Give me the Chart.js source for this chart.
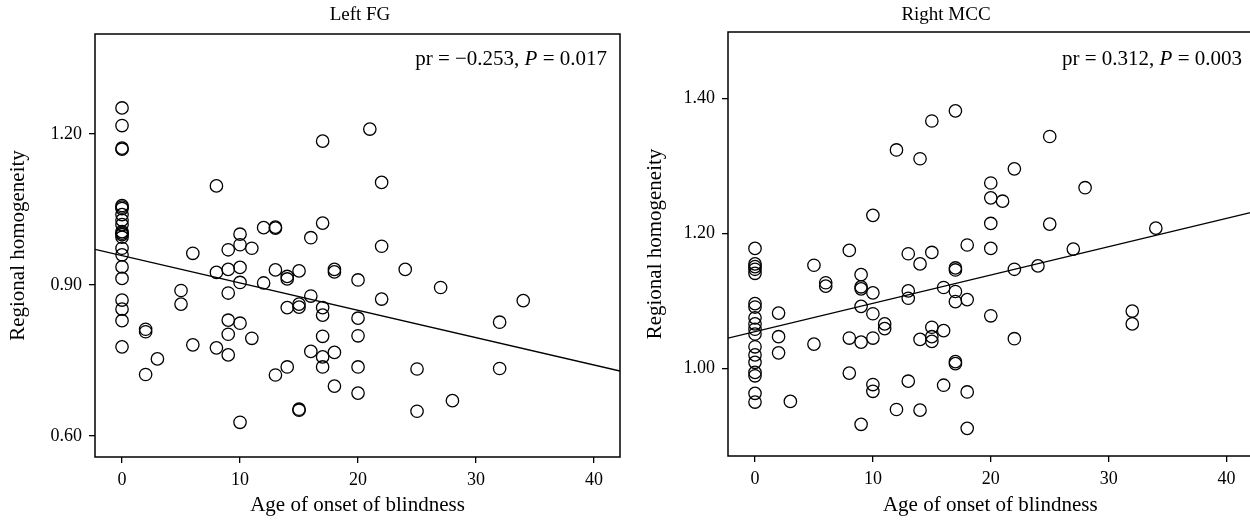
<!DOCTYPE html>
<html lang="en">
<head>
<meta charset="UTF-8">
<title>Regional homogeneity vs age of onset of blindness</title>
<style>
    html, body {
        margin: 0;
        padding: 0;
        background: #fff;
        overflow: hidden;
    }
    .panel {
        position: absolute;
        top: 0;
    }
    #leftPanel { left: 0; }
    #rightPanel { left: 630px; }
</style>
</head>
<body>
<div class="panel" id="leftPanel"><canvas id="leftChart" width="630" height="524"></canvas></div>
<div class="panel" id="rightPanel"><canvas id="rightChart" width="630" height="524"></canvas></div>

<script src="https://cdn.jsdelivr.net/npm/chart.js"></script>
<script>
// Age of onset (years) and ReHo value per subject
const leftAges = [
    0, 0, 0, 0, 0, 0, 0, 0, 0, 0, 0, 0, 0, 0, 0, 0, 0, 0, 0, 0, 0, 0,
    2, 2, 2, 3, 5, 5, 6, 6, 8, 8, 8,
    9, 9, 9, 9, 9, 9, 10, 10, 10, 10, 10, 10, 11, 11, 12, 12,
    13, 13, 13, 13, 14, 14, 14, 14, 15, 15, 15, 15, 15, 16, 16, 16,
    17, 17, 17, 17, 17, 17, 17, 18, 18, 18, 18, 20, 20, 20, 20, 20,
    21, 22, 22, 22, 24, 25, 25, 27, 28, 32, 32, 34
];
const leftReho = [
    1.252, 1.217, 1.172, 1.170, 1.058, 1.055, 1.052, 1.040, 1.029, 1.020, 1.006,
    1.003, 1.000, 0.995, 0.973, 0.960, 0.936, 0.913, 0.870, 0.852, 0.829, 0.777,
    0.812, 0.807, 0.722, 0.753, 0.889, 0.862, 0.963, 0.781, 1.097, 0.925, 0.775,
    0.970, 0.931, 0.884, 0.830, 0.802, 0.761, 1.001, 0.980, 0.935, 0.905, 0.824, 0.627,
    0.973, 0.794, 1.014, 0.904,
    1.015, 1.013, 0.930, 0.721, 0.917, 0.912, 0.855, 0.737, 0.928, 0.862, 0.856, 0.653, 0.651,
    0.994, 0.878, 0.768,
    1.186, 1.023, 0.855, 0.840, 0.798, 0.757, 0.737, 0.931, 0.926, 0.766, 0.699,
    0.910, 0.834, 0.799, 0.737, 0.685,
    1.210, 1.104, 0.977, 0.872, 0.931, 0.733, 0.649, 0.895, 0.670, 0.826, 0.734, 0.869
];

const rightAges = [
    0, 0, 0, 0, 0, 0, 0, 0, 0, 0, 0, 0, 0, 0, 0, 0, 0, 0,
    2, 2, 2, 3, 5, 5, 6, 6, 8, 8, 8,
    9, 9, 9, 9, 9, 9, 10, 10, 10, 10, 10, 10, 11, 11, 12, 12,
    13, 13, 13, 13, 14, 14, 14, 14, 15, 15, 15, 15, 15, 16, 16, 16,
    17, 17, 17, 17, 17, 17, 17, 18, 18, 18, 18, 20, 20, 20, 20, 20,
    21, 22, 22, 22, 24, 25, 25, 27, 28, 32, 32, 34
];
const rightReho = [
    1.178, 1.155, 1.151, 1.147, 1.141, 1.096, 1.091, 1.075, 1.066,
    1.058, 1.051, 1.032, 1.020, 1.009, 0.994, 0.989, 0.963, 0.950,
    1.082, 1.047, 1.023, 0.951, 1.153, 1.036, 1.127, 1.122, 1.175, 1.045, 0.993,
    1.139, 1.121, 1.118, 1.092, 1.039, 0.917, 1.227, 1.112, 1.081, 1.045, 0.976, 0.966,
    1.066, 1.059, 1.324, 0.939,
    1.170, 1.115, 1.104, 0.981, 1.311, 1.155, 1.043, 0.938, 1.367, 1.172, 1.061, 1.047, 1.040,
    1.120, 1.056, 0.975,
    1.382, 1.149, 1.146, 1.114, 1.099, 1.010, 1.007, 1.183, 1.102, 0.965, 0.911,
    1.275, 1.253, 1.215, 1.178, 1.078,
    1.248, 1.296, 1.147, 1.044, 1.152, 1.344, 1.214, 1.177, 1.268, 1.085, 1.066, 1.208
];

// Fitted regression lines (intercept at age 0, slope per year)
const leftFit = [0.9585, -0.00544];
const rightFit = [1.0544, 0.0042];

// Tick labels
const xTickValues = [0, 10, 20, 30, 40];
const leftYTicks = [0.60, 0.90, 1.20];
const rightYTicks = [1.00, 1.20, 1.40];

const FONT = '"Liberation Serif", "Times New Roman", serif';
Chart.defaults.font.family = FONT;
Chart.defaults.color = '#000';

// Box frame, panel title and the pr / P statistics
const framePlugin = {
    id: 'frame',
    afterDraw(chart, args, opts) {
        const ctx = chart.ctx;
        const a = chart.chartArea;
        ctx.save();
        ctx.strokeStyle = '#000';
        ctx.lineWidth = 1.5;
        ctx.strokeRect(a.left, a.top, a.right - a.left, a.bottom - a.top);

        ctx.fillStyle = '#000';
        ctx.textBaseline = 'alphabetic';
        ctx.font = '19px ' + FONT;
        ctx.textAlign = 'center';
        ctx.fillText(opts.title, opts.titleX, 20);

        // statistics, right aligned, with an italic P
        const parts = [
            ['pr = ' + opts.pr + ', ', '21px ' + FONT],
            ['P', 'italic 21px ' + FONT],
            [' = ' + opts.p, '21px ' + FONT]
        ];
        let total = 0;
        parts.forEach(p => { ctx.font = p[1]; total += ctx.measureText(p[0]).width; });
        let x = opts.statRight - total;
        ctx.textAlign = 'left';
        parts.forEach(p => {
            ctx.font = p[1];
            ctx.fillText(p[0], x, 65);
            x += ctx.measureText(p[0]).width;
        });
        ctx.restore();
    }
};

function buildChart(id, ages, reho, fit, yTicks, yMin, yMax, layout) {
    const xMin = -2.29, xMax = 42.2;
    const points = ages.map((a, i) => ({ x: a, y: reho[i] }));
    const line = [xMin, xMax].map(x => ({ x: x, y: fit[0] + fit[1] * x }));

    return new Chart(document.getElementById(id), {
        type: 'scatter',
        data: {
            datasets: [{
                data: points,
                pointRadius: 6.2,
                pointHoverRadius: 6.2,
                pointBorderWidth: 1.3,
                pointBorderColor: '#000',
                pointBackgroundColor: 'rgba(0,0,0,0)'
            }, {
                type: 'line',
                data: line,
                borderColor: '#000',
                borderWidth: 1.3,
                pointRadius: 0,
                fill: false
            }]
        },
        options: {
            responsive: false,
            animation: false,
            events: [],
            layout: { padding: { left: 0, top: layout.top, right: layout.right, bottom: 0 } },
            plugins: {
                legend: { display: false },
                tooltip: { enabled: false },
                frame: layout.frame
            },
            scales: {
                x: {
                    type: 'linear',
                    min: xMin,
                    max: xMax,
                    afterBuildTicks: s => { s.ticks = xTickValues.map(v => ({ value: v })); },
                    afterFit: s => { s.height = 524 - layout.bottom; },
                    border: { display: false },
                    grid: { display: true, drawOnChartArea: false, drawTicks: true, tickLength: 6, color: '#000', lineWidth: 1.3 },
                    ticks: { padding: 6, font: { size: 18 }, color: '#000' },
                    title: {
                        display: true,
                        text: 'Age of onset of blindness',
                        font: { size: 21 },
                        color: '#000',
                        padding: { top: 0, bottom: 6.4 }
                    }
                },
                y: {
                    type: 'linear',
                    min: yMin,
                    max: yMax,
                    afterBuildTicks: s => { s.ticks = yTicks.map(v => ({ value: v })); },
                    afterFit: s => { s.width = layout.left; },
                    border: { display: false },
                    grid: { display: true, drawOnChartArea: false, drawTicks: true, tickLength: 6, color: '#000', lineWidth: 1.3 },
                    ticks: { padding: 7, font: { size: 18 }, color: '#000', callback: v => v.toFixed(2) },
                    title: {
                        display: true,
                        text: 'Regional homogeneity',
                        font: { size: 21 },
                        color: '#000',
                        padding: { top: layout.yTitlePad, bottom: 0 }
                    }
                }
            }
        },
        plugins: [framePlugin]
    });
}

buildChart('leftChart', leftAges, leftReho, leftFit, leftYTicks, 0.558, 1.399, {
    top: 34, bottom: 457, left: 95, right: 10, yTitlePad: 5.4,
    frame: { title: 'Left FG', titleX: 360, pr: '\u22120.253', p: '0.017', statRight: 607 }
});

buildChart('rightChart', rightAges, rightReho, rightFit, rightYTicks, 0.870, 1.499, {
    top: 32, bottom: 456, left: 98, right: 6, yTitlePad: 12.4,
    frame: { title: 'Right MCC', titleX: 316, pr: '0.312', p: '0.003', statRight: 612 }
});
</script>
</body>
</html>
